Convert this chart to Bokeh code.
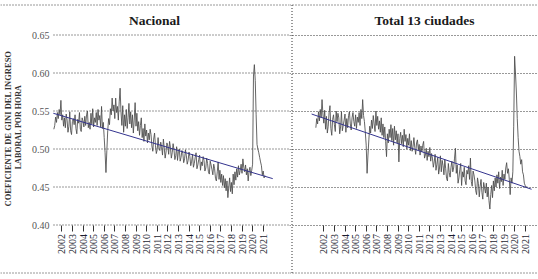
import math
import pandas as pd
from bokeh.plotting import figure
from bokeh.layouts import row
from bokeh.models import (Range1d, LinearAxis, FixedTicker, PrintfTickFormatter,
                          BasicTickFormatter, Span, Label, Grid)
from bokeh.embed import file_html
from bokeh.resources import INLINE

# ---------------- data ----------------
panel_titles = ["Nacional", "Total 13 ciudades"]
y_title_1 = "COEFICIENTE DE GINI DEL INGRESO"
y_title_2 = "LABORAL POR HORA"
year_ticks = list(range(2002, 2022))
gini_ticks = [0.40, 0.45, 0.50, 0.55, 0.60, 0.65]

# monthly, April 2001 - March 2021 (one row = 12 months)
nacional = [
    0.526, 0.531, 0.542, 0.535, 0.548, 0.540, 0.552, 0.545, 0.564, 0.538, 0.545, 0.530,
    0.541, 0.528, 0.546, 0.538, 0.522, 0.530, 0.549, 0.524, 0.519, 0.536, 0.540, 0.532,
    0.545, 0.527, 0.520, 0.539, 0.534, 0.548, 0.526, 0.523, 0.541, 0.537, 0.529, 0.543,
    0.531, 0.545, 0.550, 0.528, 0.535, 0.526, 0.547, 0.533, 0.553, 0.529, 0.541, 0.535,
    0.548, 0.531, 0.552, 0.538, 0.544, 0.529, 0.556, 0.527, 0.535, 0.515, 0.495, 0.469,
    0.498, 0.524, 0.540, 0.532, 0.553, 0.545, 0.567, 0.550, 0.558, 0.540, 0.567, 0.548,
    0.556, 0.538, 0.562, 0.580, 0.549, 0.531, 0.557, 0.522, 0.545, 0.530, 0.552, 0.527,
    0.541, 0.560, 0.533, 0.549, 0.528, 0.545, 0.521, 0.538, 0.561, 0.530, 0.547, 0.524,
    0.536, 0.518, 0.531, 0.541, 0.515, 0.527, 0.510, 0.533, 0.517, 0.525, 0.508, 0.521,
    0.512, 0.526, 0.519, 0.504, 0.497, 0.513, 0.521, 0.505, 0.494, 0.499, 0.515, 0.501,
    0.498, 0.509, 0.503, 0.492, 0.513, 0.501, 0.488, 0.496, 0.508, 0.504, 0.493, 0.510,
    0.502, 0.488, 0.495, 0.507, 0.499, 0.486, 0.491, 0.503, 0.485, 0.497, 0.500, 0.484,
    0.489, 0.498, 0.494, 0.482, 0.487, 0.499, 0.491, 0.480, 0.485, 0.496, 0.490, 0.478,
    0.484, 0.493, 0.476, 0.481, 0.489, 0.495, 0.474, 0.479, 0.486, 0.492, 0.472, 0.483,
    0.478, 0.490, 0.485, 0.471, 0.475, 0.488, 0.481, 0.470, 0.467, 0.484, 0.479, 0.473,
    0.466, 0.480, 0.474, 0.461, 0.458, 0.470, 0.483, 0.460, 0.472, 0.456, 0.467, 0.452,
    0.465, 0.449, 0.461, 0.445, 0.458, 0.436, 0.450, 0.462, 0.444, 0.456, 0.441, 0.467,
    0.453, 0.470, 0.459, 0.474, 0.463, 0.478, 0.466, 0.472, 0.480, 0.468, 0.487, 0.476,
    0.470, 0.479, 0.466, 0.474, 0.458, 0.471, 0.476, 0.465, 0.472, 0.480, 0.596, 0.611,
    0.590, 0.545, 0.506, 0.500, 0.495, 0.489, 0.483, 0.478, 0.466, 0.471, 0.462, 0.465,
]

ciudades13 = [
    0.528, 0.540, 0.533, 0.549, 0.537, 0.552, 0.541, 0.565, 0.546, 0.534, 0.551, 0.526,
    0.543, 0.521, 0.530, 0.548, 0.557, 0.527, 0.518, 0.539, 0.545, 0.532, 0.523, 0.550,
    0.536, 0.547, 0.541, 0.520, 0.529, 0.549, 0.524, 0.531, 0.538, 0.546, 0.522, 0.540,
    0.528, 0.544, 0.549, 0.533, 0.525, 0.541, 0.548, 0.536, 0.530, 0.545, 0.527, 0.542,
    0.535, 0.548, 0.531, 0.552, 0.540, 0.565, 0.544, 0.536, 0.522, 0.505, 0.468, 0.492,
    0.512, 0.530, 0.521, 0.538, 0.527, 0.544, 0.533, 0.523, 0.550, 0.531, 0.543, 0.526,
    0.537, 0.522, 0.541, 0.518, 0.533, 0.515, 0.529, 0.510, 0.490, 0.520, 0.508, 0.526,
    0.515, 0.532, 0.511, 0.527, 0.505, 0.530, 0.512, 0.524, 0.508, 0.520, 0.483, 0.514,
    0.522, 0.507, 0.518, 0.503, 0.526, 0.510, 0.519, 0.500, 0.514, 0.505, 0.520, 0.498,
    0.511, 0.497, 0.503, 0.515, 0.502, 0.493, 0.508, 0.512, 0.499, 0.506, 0.492, 0.504,
    0.496, 0.505, 0.510, 0.488, 0.492, 0.501, 0.485, 0.497, 0.490, 0.502, 0.484, 0.494,
    0.488, 0.476, 0.483, 0.493, 0.472, 0.480, 0.489, 0.467, 0.475, 0.491, 0.470, 0.485,
    0.478, 0.466, 0.486, 0.474, 0.461, 0.458, 0.481, 0.469, 0.463, 0.476, 0.484, 0.470,
    0.475, 0.488, 0.501, 0.468, 0.479, 0.455, 0.462, 0.473, 0.481, 0.452, 0.470, 0.463,
    0.476, 0.458, 0.453, 0.472, 0.467, 0.478, 0.460, 0.488, 0.457, 0.451, 0.471, 0.466,
    0.458, 0.445, 0.440, 0.462, 0.455, 0.437, 0.451, 0.460, 0.443, 0.434, 0.456, 0.449,
    0.442, 0.455, 0.437, 0.450, 0.432, 0.421, 0.440, 0.452, 0.436, 0.458, 0.445, 0.462,
    0.450, 0.466, 0.455, 0.470, 0.448, 0.463, 0.457, 0.472, 0.452, 0.467, 0.460, 0.475,
    0.482, 0.468, 0.474, 0.460, 0.440, 0.462, 0.455, 0.470, 0.530, 0.622, 0.600, 0.575,
    0.540, 0.515, 0.497, 0.490, 0.480, 0.486, 0.470, 0.466, 0.455, 0.452, 0.449, 0.451,
]

# linear trend lines (start / end)
trend_nac_x = [2001.2, 2021.9]
trend_nac_y = [0.547, 0.461]
trend_13_x = [2000.85, 2021.6]
trend_13_y = [0.546, 0.447]

months = pd.date_range("2001-04-01", periods=len(nacional), freq="MS")
dec_year = [d.year + (d.month - 1) / 12.0 for d in months]

# ---------------- geometry helpers ----------------
H = 279
PX_PER_YEAR = 10.6
PX_PER_UNIT = 760.0


def val(py):
    return 0.65 - (py - 34.5) / PX_PER_UNIT


def year_at(px, tick0):
    return 2002 + (px - tick0) / PX_PER_YEAR


DOT = "1 2"
DOT_COLOR = "#333333"
SERIF = "Liberation Serif"


def make_panel(width, frame_left_px, tick0_px, title, title_px, xs, ys, tx, ty,
               with_y_axis):
    x0 = year_at(frame_left_px, tick0_px)
    x1 = year_at(frame_left_px + width, tick0_px)
    p = figure(width=width, height=H, output_backend="svg", toolbar_location=None,
               x_axis_location=None, y_axis_location=None,
               x_range=Range1d(x0, x1), y_range=Range1d(val(H), val(0)),
               min_border=0, outline_line_color=None,
               background_fill_color="white", border_fill_color="white")
    p.xgrid.visible = False
    p.ygrid.visible = False

    # horizontal dotted grid
    if with_y_axis:
        gx0 = year_at(53, tick0_px)
        p.segment(x0=[gx0] * len(gini_ticks), x1=[x1] * len(gini_ticks),
                  y0=gini_ticks, y1=gini_ticks, line_color=DOT_COLOR,
                  line_dash=DOT, line_width=1)
    else:
        g = Grid(dimension=1, ticker=FixedTicker(ticks=gini_ticks),
                 grid_line_color=DOT_COLOR, grid_line_dash=DOT, grid_line_width=1)
        p.add_layout(g)

    # table borders
    for py in (4.5, 272.5):
        p.add_layout(Span(location=val(py), dimension="width", line_color=DOT_COLOR,
                          line_dash=DOT, line_width=1))
    if not with_y_axis:
        dx = year_at(291.5, tick0_px)
        p.segment(x0=[dx], x1=[dx], y0=[val(4.5)], y1=[val(272.5)],
                  line_color=DOT_COLOR, line_dash=DOT, line_width=1)

    # data
    p.line(xs, ys, line_color="#4a4a4a", line_width=0.85)
    p.line(tx, ty, line_color="#34348f", line_width=1)

    # x axis at 0.40
    xa = LinearAxis(fixed_location=0.40, ticker=FixedTicker(ticks=year_ticks),
                    formatter=BasicTickFormatter(use_scientific=False))
    xa.axis_line_color = None
    xa.major_tick_out = 6
    xa.major_tick_in = 0
    xa.minor_tick_out = 0
    xa.minor_tick_in = 0
    xa.major_tick_line_color = "#333333"
    xa.major_label_orientation = math.pi / 2
    xa.major_label_standoff = 3
    xa.major_label_text_font = SERIF
    xa.major_label_text_font_size = "10px"
    xa.major_label_text_color = "#1c1c30"
    p.add_layout(xa, "below")

    if with_y_axis:
        ya = LinearAxis(fixed_location=year_at(53, tick0_px),
                        ticker=FixedTicker(ticks=gini_ticks),
                        formatter=PrintfTickFormatter(format="%.2f"))
        ya.axis_line_color = None
        ya.major_tick_out = 0
        ya.major_tick_in = 0
        ya.minor_tick_out = 0
        ya.minor_tick_in = 0
        ya.major_label_standoff = 4
        ya.major_label_text_font = SERIF
        ya.major_label_text_font_size = "10px"
        ya.major_label_text_color = "#555555"
        p.add_layout(ya, "left")

        p.add_layout(Label(x=year_at(7.5, tick0_px), y=val(128), text=y_title_1,
                           angle=math.pi / 2, text_align="center",
                           text_baseline="middle", text_font=SERIF,
                           text_font_style="bold", text_font_size="8.5px",
                           text_color="#333333"))
        p.add_layout(Label(x=year_at(18, tick0_px), y=val(126.5), text=y_title_2,
                           angle=math.pi / 2, text_align="center",
                           text_baseline="middle", text_font=SERIF,
                           text_font_style="bold", text_font_size="8px",
                           text_color="#333333"))

    p.add_layout(Label(x=year_at(title_px, tick0_px), y=val(19.5), text=title,
                       text_align="center", text_baseline="middle",
                       text_font=SERIF, text_font_style="bold",
                       text_font_size="13.5px", text_color="#1a1a1a"))
    return p


left = make_panel(289, 0, 61.3, panel_titles[0], 154, dec_year, nacional,
                  trend_nac_x, trend_nac_y, True)
right = make_panel(249, 289, 323.3, panel_titles[1], 424, dec_year, ciudades13,
                   trend_13_x, trend_13_y, False)

layout = row(left, right, spacing=0)
open("out.html", "w").write(file_html(layout, INLINE))
